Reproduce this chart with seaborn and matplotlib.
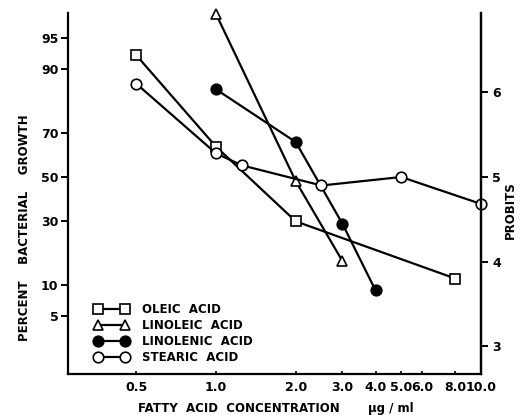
import matplotlib
matplotlib.use("Agg")
import matplotlib.pyplot as plt
import seaborn as sns
import pandas as pd
from statistics import NormalDist

# ---- data (percent bacterial growth vs concentration, ug/ml) ----
oleic_x = [0.5, 1.0, 2.0, 8.0]
oleic_y = [92.5, 64.0, 30.0, 11.5]
linoleic_x = [1.0, 2.0, 3.0]
linoleic_y = [97.3, 48.0, 16.0]
linolenic_x = [1.0, 2.0, 3.0, 4.0]
linolenic_y = [85.0, 66.0, 29.0, 9.0]
stearic_x = [0.5, 1.0, 1.25, 2.5, 5.0, 10.0]
stearic_y = [86.5, 61.0, 55.5, 46.0, 50.0, 37.5]

series_names = ["OLEIC  ACID", "LINOLEIC  ACID", "LINOLENIC  ACID", "STEARIC  ACID"]
percent_ticks = [5, 10, 30, 50, 70, 90, 95]
probit_ticks = [3, 4, 5, 6]
x_ticks = [0.5, 1.0, 2.0, 3.0, 4.0, 5.0, 6.0, 8.0, 10.0]
x_ticklabels = ["0.5", "1.0", "2.0", "3.0", "4.0", "5.0", "6.0", "8.0", "10.0"]


def probit(p):
    return NormalDist().inv_cdf(p / 100.0) + 5.0


sns.set_theme(style="white")
plt.rcParams["font.family"] = ["DejaVu Sans"]
plt.rcParams["font.weight"] = "bold"
plt.rcParams["text.color"] = "black"
plt.rcParams["xtick.color"] = "black"
plt.rcParams["ytick.color"] = "black"
plt.rcParams["axes.labelcolor"] = "black"

W, H = 521, 415
fig = plt.figure(figsize=(W / 100, H / 100), dpi=100)
L, R, B, T = 68, 481, 374, 13
ax = fig.add_axes([L / W, 1 - B / H, (R - L) / W, (B - T) / H])

styles = [
    dict(marker="s", markersize=6.8, markerfacecolor="white"),
    dict(marker="^", markersize=7.5, markerfacecolor="white"),
    dict(marker="o", markersize=7.6, markerfacecolor="black"),
    dict(marker="o", markersize=7.6, markerfacecolor="white"),
]
xs = [oleic_x, linoleic_x, linolenic_x, stearic_x]
ys = [oleic_y, linoleic_y, linolenic_y, stearic_y]

for name, x, y, st in zip(series_names, xs, ys, styles):
    df = pd.DataFrame({"conc": x, "probit": [probit(v) for v in y]})
    sns.lineplot(data=df, x="conc", y="probit", ax=ax, color="black",
                 linewidth=1.6, markeredgecolor="black", markeredgewidth=1.2,
                 clip_on=False, label=name, **st)

ax.set_xscale("log")
ax.set_xlim(0.2763, 10.0)
ylo = 5 - (B - 177) / 84.6
yhi = 5 + (177 - T) / 84.6
ax.set_ylim(ylo, yhi)

ax.set_xticks(x_ticks)
ax.set_xticklabels(x_ticklabels)
ax.xaxis.set_minor_locator(matplotlib.ticker.NullLocator())
ax.set_yticks([probit(p) for p in percent_ticks])
ax.set_yticklabels([str(p) for p in percent_ticks])
ax.set_xlabel("")
ax.set_ylabel("")

for s in ["left", "bottom", "right"]:
    ax.spines[s].set_visible(True)
    ax.spines[s].set_color("black")
    ax.spines[s].set_linewidth(1.6)
ax.spines["top"].set_visible(False)
ax.tick_params(axis="y", which="major", direction="out", length=5, width=1.4,
               color="black", labelcolor="black", labelsize=9, pad=2, left=True)
ax.tick_params(axis="x", which="major", direction="in", length=2, width=1.2,
               color="black", labelcolor="black", labelsize=9, pad=5, bottom=True)

ax2 = ax.twinx()
ax2.set_ylim(ylo, yhi)
ax2.set_yticks(probit_ticks)
ax2.set_yticklabels([str(p) for p in probit_ticks])
ax2.tick_params(axis="y", direction="out", length=5, width=1.4, color="black",
                labelcolor="black", labelsize=9, pad=3, right=True)
for s in ["left", "top", "bottom"]:
    ax2.spines[s].set_visible(False)
ax2.spines["right"].set_linewidth(1.6)
ax2.spines["right"].set_color("black")
ax2.grid(False)
ax.grid(False)

leg = ax.legend(loc="lower left", bbox_to_anchor=(94.5 / W, 1 - 364 / H),
                bbox_transform=fig.transFigure, frameon=False, numpoints=2,
                handlelength=2.9, handletextpad=1.1, labelspacing=0.25,
                borderpad=0, borderaxespad=0, fontsize=8.5)
for t in leg.get_texts():
    t.set_fontweight("bold")
    t.set_color("black")

fig.text(25 / W, 1 - 228 / H, "PERCENT    BACTERIAL    GROWTH", rotation=90,
         ha="center", va="center", fontsize=8.5, fontweight="bold", color="black")
fig.text(510 / W, 1 - 210 / H, "PROBITS", rotation=90,
         ha="center", va="center", fontsize=8.5, fontweight="bold", color="black")
fig.text(138 / W, 1 - 408 / H, "FATTY  ACID  CONCENTRATION", ha="left",
         va="center", fontsize=8.5, fontweight="bold", color="black")
fig.text(368 / W, 1 - 408 / H, "µg / ml", ha="left", va="center",
         fontsize=8.5, fontweight="bold", color="black")

fig.savefig("out.png", dpi=100)
